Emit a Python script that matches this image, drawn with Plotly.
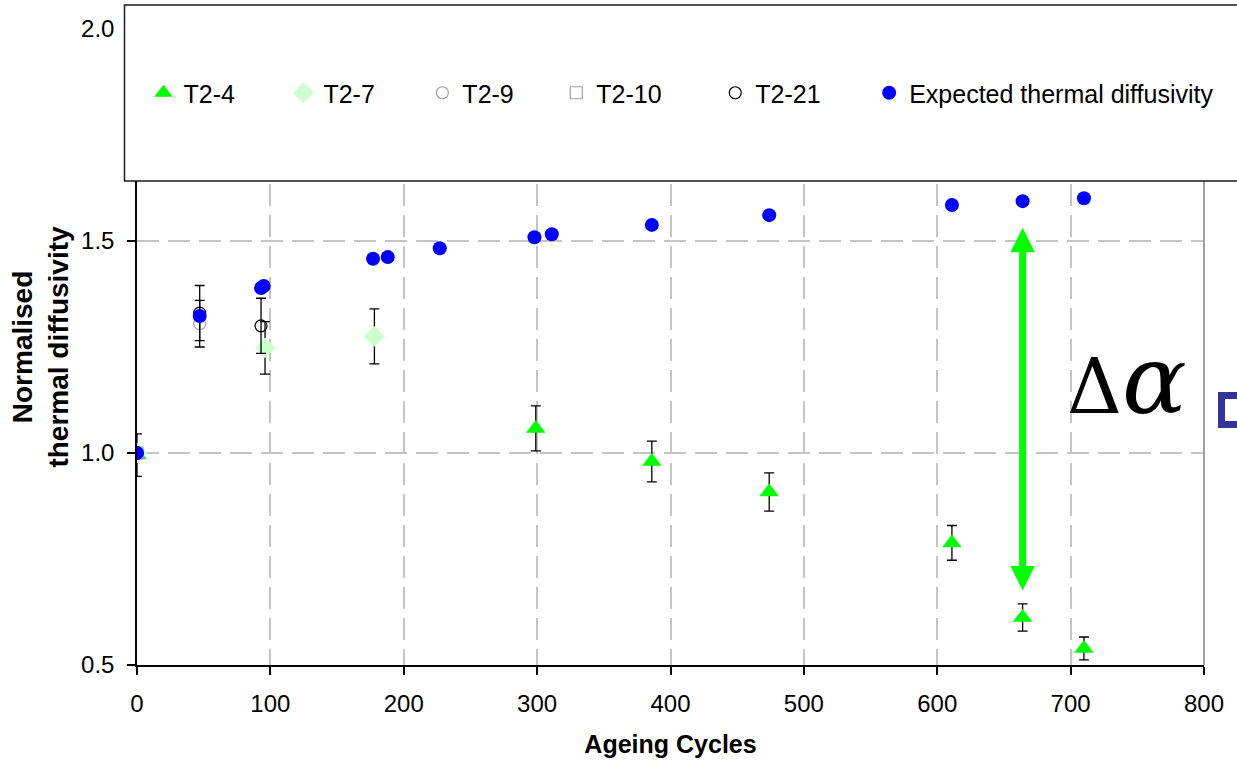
import plotly.graph_objects as go

# Ageing cycles and normalised thermal diffusivity for each sample
t2_4_x = [0, 299, 386, 474, 611, 664, 710]
t2_4_y = [0.995, 1.058, 0.98, 0.908, 0.788, 0.612, 0.539]
t2_4_err = [0.05, 0.053, 0.048, 0.045, 0.041, 0.032, 0.027]

t2_7_x = [0, 96, 178]
t2_7_y = [1.0, 1.248, 1.275]
t2_7_err = [None, 0.062, 0.065]

t2_9_x = [0, 47]
t2_9_y = [1.0, 1.305]
t2_9_err = [None, 0.055]

t2_10_x = [0]
t2_10_y = [1.0]
t2_10_err = [None]

t2_21_x = [0, 47, 93]
t2_21_y = [1.0, 1.33, 1.30]
t2_21_err = [None, 0.065, 0.065]

expected_x = [0, 47, 93, 95, 177, 188, 227, 298, 311, 386, 474, 611, 664, 710]
expected_y = [1.0, 1.323, 1.389, 1.394, 1.458, 1.462, 1.483, 1.509, 1.516,
              1.538, 1.561, 1.585, 1.594, 1.601]

# Double-headed arrow marking the diffusivity drop
arrow_x = 664
arrow_top = 1.535
arrow_bottom = 0.676

FONT = "Liberation Sans, Arial, sans-serif"
SERIF = "DejaVu Serif, serif"
L, R, T, B = 136.5, 33, 29, 97
W, H = 1237, 762
PW, PH = W - L - R, H - T - B


def px_x(px):
    return (px - L) / PW


def px_y(py):
    return (H - B - py) / PH


def err(vals):
    return dict(type="data", array=vals, visible=True, color="#000000",
                thickness=1.3, width=5)


fig = go.Figure()

fig.add_trace(go.Scatter(
    x=t2_4_x, y=t2_4_y, mode="markers", name="T2-4",
    error_y=err(t2_4_err),
    marker=dict(symbol="triangle-up", size=17, color="#00ff00"),
    legend="legend"))
fig.add_trace(go.Scatter(
    x=t2_7_x, y=t2_7_y, mode="markers", name="T2-7",
    error_y=err(t2_7_err),
    marker=dict(symbol="diamond", size=16, color="#ccffcc"),
    legend="legend2"))
fig.add_trace(go.Scatter(
    x=t2_9_x, y=t2_9_y, mode="markers", name="T2-9",
    error_y=err(t2_9_err),
    marker=dict(symbol="circle-open", size=12, color="#a0a0a0",
                line=dict(width=1.2)),
    legend="legend3"))
fig.add_trace(go.Scatter(
    x=t2_10_x, y=t2_10_y, mode="markers", name="T2-10",
    error_y=err(t2_10_err),
    marker=dict(symbol="square-open", size=12, color="#a0a0a0",
                line=dict(width=1.2)),
    legend="legend4"))
fig.add_trace(go.Scatter(
    x=t2_21_x, y=t2_21_y, mode="markers", name="T2-21",
    error_y=err(t2_21_err),
    marker=dict(symbol="circle-open", size=12, color="#000000",
                line=dict(width=1.2)),
    legend="legend5"))
fig.add_trace(go.Scatter(
    x=expected_x, y=expected_y, mode="markers",
    name="Expected thermal diffusivity",
    marker=dict(symbol="circle", size=14, color="#0000ff"),
    legend="legend6"))

# One legend per entry so each sits at its own spot inside the key box
legend_marker_px = [163, 303, 442, 576, 735, 889]
legend_keys = ["legend", "legend2", "legend3", "legend4", "legend5", "legend6"]
legend_layout = {}
for key, mx in zip(legend_keys, legend_marker_px):
    legend_layout[key] = dict(
        x=px_x(mx - 20), y=px_y(93), xanchor="left", yanchor="middle",
        xref="paper", yref="paper", bgcolor="rgba(0,0,0,0)", borderwidth=0,
        font=dict(family=FONT, size=25, color="#000000"))

grid = dict(showgrid=True, gridcolor="#c4c4c4", gridwidth=1.5,
            griddash="22px,9px")

fig.update_layout(
    width=W, height=H,
    margin=dict(l=L, r=R, t=T, b=B, autoexpand=False),
    paper_bgcolor="#ffffff", plot_bgcolor="#ffffff",
    font=dict(family=FONT, color="#000000"),
    showlegend=True,
    xaxis=dict(
        range=[0, 800], dtick=100, tick0=0, **grid,
        showline=True, linecolor="#000000", linewidth=1.5,
        ticks="outside", ticklen=8, tickcolor="#000000", tickwidth=1.5,
        ticklabelstandoff=8,
        tickfont=dict(family=FONT, size=24, color="#000000"),
        zeroline=False,
        title=dict(text="<b>Ageing Cycles</b>", standoff=20,
                   font=dict(family=FONT, size=25, color="#000000"))),
    yaxis=dict(
        range=[0.5, 2.0], dtick=0.5, tick0=0.5, tickformat=".1f", **grid,
        showline=True, linecolor="#000000", linewidth=1.5,
        ticks="outside", ticklen=8, tickcolor="#000000", tickwidth=1.5,
        ticklabelstandoff=8,
        tickfont=dict(family=FONT, size=24, color="#000000"),
        zeroline=False,
        title=dict(text="<b>Normalised<br>thermal diffusivity</b>", standoff=4,
                   font=dict(family=FONT, size=28, color="#000000"))),
    **legend_layout,
)

# Right-hand border of the plotting area
fig.add_shape(type="line", xref="x domain", yref="y domain",
              x0=1, x1=1, y0=0, y1=1, line=dict(color="#a0a0a0", width=2))

# White key box across the top of the chart
fig.add_shape(type="rect", xref="paper", yref="paper", layer="above",
              x0=px_x(124), x1=px_x(1260), y0=px_y(181), y1=px_y(5),
              fillcolor="#ffffff", line=dict(color="#1a1a1a", width=1.5))

# Partly visible outlined box at the right edge
fig.add_shape(type="rect", xref="paper", yref="paper", layer="above",
              x0=px_x(1221.5), x1=px_x(1270), y0=px_y(424.5), y1=px_y(395.5),
              fillcolor="#ffffff", line=dict(color="#333399", width=7))

fig.add_annotation(
    x=arrow_x, y=arrow_bottom, ax=arrow_x, ay=arrow_top,
    xref="x", yref="y", axref="x", ayref="y", text="",
    showarrow=True, arrowside="end+start",
    arrowhead=2, startarrowhead=2, arrowsize=0.7, startarrowsize=0.7,
    arrowwidth=7, arrowcolor="#00ff00")

fig.add_annotation(
    x=px_x(1127), y=px_y(380), xref="paper", yref="paper",
    text="\u0394<span style=\"font-size:96px\"><i>\u03b1</i></span>",
    showarrow=False, xanchor="center", yanchor="middle",
    font=dict(family=SERIF, size=76, color="#000000"))

fig.write_html("out.html")
